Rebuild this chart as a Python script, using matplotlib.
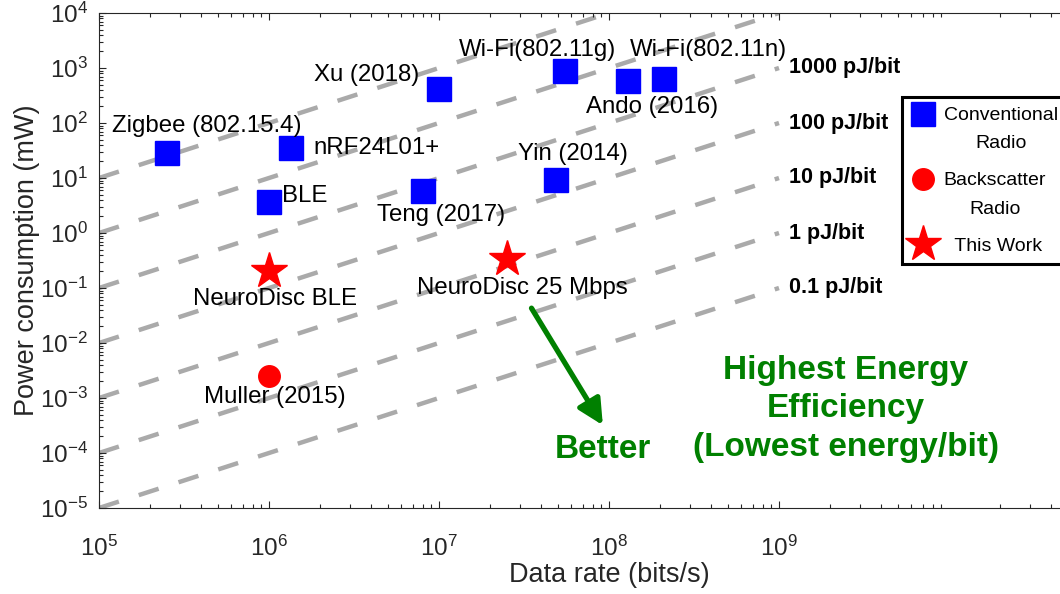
import numpy as np
import matplotlib
matplotlib.use('Agg')
import matplotlib.pyplot as plt
from matplotlib import ticker
from matplotlib.legend_handler import HandlerLine2D

plt.rcParams['font.family'] = ['Liberation Sans', 'DejaVu Sans']

# Conventional radios (bits/s, mW)
conv_names = ['Zigbee (802.15.4)', 'nRF24L01+', 'BLE', 'Xu (2018)', 'Wi-Fi(802.11g)',
              'Ando (2016)', 'Wi-Fi(802.11n)', 'Teng (2017)', 'Yin (2014)']
conv_rate = [2.5e5, 1.35e6, 1.0e6, 1.0e7, 5.5e7, 1.3e8, 2.1e8, 8.0e6, 4.9e7]
conv_power = [28, 35, 3.7, 410, 900, 580, 630, 5.8, 9.2]

# Backscatter radio
bs_names = ['Muller (2015)']
bs_rate = [1.0e6]
bs_power = [2.5e-3]

# This work
work_names = ['NeuroDisc BLE', 'NeuroDisc 25 Mbps']
work_rate = [1.0e6, 2.5e7]
work_power = [0.2, 0.34]

# constant energy-per-bit lines (pJ/bit)
energy_pj = [1e5, 1e4, 1e3, 100, 10, 1, 0.1]
energy_labels = ['', '', '1000 pJ/bit', '100 pJ/bit', '10 pJ/bit', '1 pJ/bit', '0.1 pJ/bit']
line_rate = [1e5, 1e9]

# label placement: (dx, dy) in points from the marker, horizontal alignment
label_pos = {
    'Zigbee (802.15.4)': (29, 20, 'center'),
    'nRF24L01+': (16, 0, 'left'),
    'BLE': (9, 4, 'left'),
    'Xu (2018)': (-52, 10, 'center'),
    'Wi-Fi(802.11g)': (-20, 15, 'center'),
    'Ando (2016)': (17, -19, 'center'),
    'Wi-Fi(802.11n)': (32, 21, 'center'),
    'Teng (2017)': (13, -17, 'center'),
    'Yin (2014)': (12, 19, 'center'),
    'NeuroDisc BLE': (4, -20, 'center'),
    'NeuroDisc 25 Mbps': (11, -21, 'center'),
    'Muller (2015)': (4, -15, 'center'),
}

arrow_tail = (3.5e7, 0.043)
arrow_head = (9.2e7, 3.2e-4)

green = '#008000'
axcol = '#262626'


class FirstLineHandler(HandlerLine2D):
    # put the marker next to the first line of a two-line label
    def __init__(self, shift=0, **kw):
        super().__init__(**kw)
        self.shift = shift

    def create_artists(self, legend, orig_handle, xdescent, ydescent, width, height, fontsize, trans):
        artists = super().create_artists(legend, orig_handle, xdescent, ydescent, width, height, fontsize, trans)
        for a in artists:
            a.set_ydata([y + self.shift for y in a.get_ydata()])
        return artists


fig = plt.figure(figsize=(10.6, 5.94), dpi=100)
ax = fig.add_axes([99 / 1060, 86 / 594, 1020 / 1060, 495 / 594])
ax.set_xscale('log')
ax.set_yscale('log')

for e in energy_pj:
    ax.plot(line_rate, [e * r * 1e-9 for r in line_rate], color='#aaaaaa', lw=3.2,
            dashes=(4.7, 4.7), zorder=1)
for e, lab in zip(energy_pj, energy_labels):
    if lab:
        ax.text(1.15e9, e, lab, fontsize=15.5, fontweight='bold', va='center', ha='left')

h_conv, = ax.plot(conv_rate, conv_power, 's', color='blue', ms=17, zorder=3)
h_bs, = ax.plot(bs_rate, bs_power, 'o', color='red', ms=15.5, zorder=3)
h_work, = ax.plot(work_rate, work_power, '*', color='red', ms=27, zorder=3)

for names, xs, ys in [(conv_names, conv_rate, conv_power), (bs_names, bs_rate, bs_power),
                      (work_names, work_rate, work_power)]:
    for n, x, y in zip(names, xs, ys):
        dx, dy, ha = label_pos[n]
        ax.annotate(n, (x, y), xytext=(dx, dy), textcoords='offset points',
                    ha=ha, va='center', fontsize=17.3)

ax.annotate('', xy=arrow_head, xytext=arrow_tail,
            arrowprops=dict(arrowstyle='-|>', color=green, lw=3.8, mutation_scale=38,
                            shrinkA=0, shrinkB=0))
ax.text(0.494, 0.118, 'Better', transform=ax.transAxes, ha='center', va='center',
        color=green, fontsize=24, fontweight='bold')
ax.text(0.732, 0.200, 'Highest Energy\nEfficiency\n(Lowest energy/bit)', transform=ax.transAxes,
        ha='center', va='center', color=green, fontsize=24, fontweight='bold', linespacing=1.32)

ax.set_xlim(1e5, 1e11)
ax.set_ylim(1e-5, 1e4)
ax.set_xticks([1e5, 1e6, 1e7, 1e8, 1e9])
ax.set_yticks([10.0 ** k for k in range(-5, 5)])
ax.xaxis.set_minor_locator(ticker.LogLocator(base=10, subs=np.arange(2, 10), numticks=100))
ax.yaxis.set_minor_locator(ticker.LogLocator(base=10, subs=np.arange(2, 10), numticks=100))
ax.xaxis.set_minor_formatter(ticker.NullFormatter())
ax.yaxis.set_minor_formatter(ticker.NullFormatter())
ax.tick_params(which='both', direction='in', top=True, right=True, colors=axcol, width=0.8)
ax.tick_params(which='major', length=5, labelsize=17.5)
ax.tick_params(which='minor', length=3)
ax.tick_params(axis='x', pad=20)
ax.tick_params(axis='y', pad=8)
for s in ax.spines.values():
    s.set_color(axcol)
    s.set_linewidth(0.8)

ax.set_xlabel('Data rate (bits/s)', fontsize=19.5, color=axcol, labelpad=1)
ax.set_ylabel('Power consumption (mW)', fontsize=19.5, color=axcol, labelpad=0)

leg = ax.legend([h_conv, h_bs, h_work], ['Conventional\nRadio', 'Backscatter\nRadio', '  This Work'],
                handler_map={h_conv: FirstLineHandler(shift=11), h_bs: FirstLineHandler(shift=11),
                             h_work: FirstLineHandler(shift=0)},
                loc='upper left', bbox_to_anchor=(902 / 1060, 1 - 97 / 594),
                bbox_transform=fig.transFigure, fontsize=14, fancybox=False, framealpha=1,
                edgecolor='black', borderpad=0.5, handlelength=1.2, handletextpad=0.45,
                labelspacing=1.0, numpoints=1, borderaxespad=0)
leg.get_frame().set_linewidth(2.2)
for t in leg.get_texts():
    t.set_multialignment('center')
    t.set_linespacing(1.9)

fig.savefig('out.png', dpi=100)
